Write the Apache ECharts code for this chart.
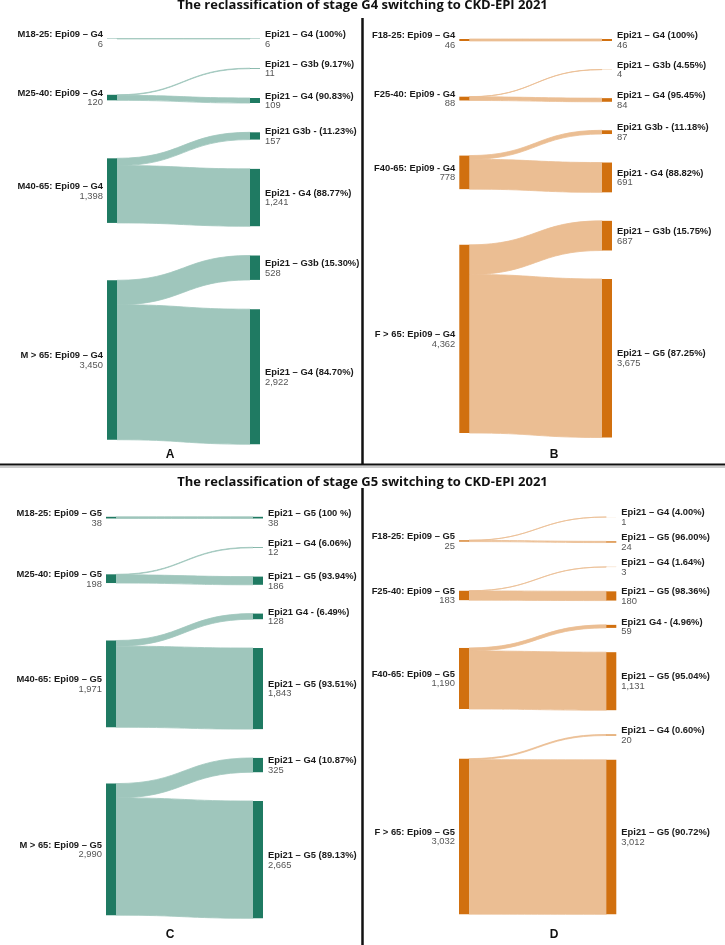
<!DOCTYPE html>
<html><head><meta charset="utf-8">
<script src="https://cdn.jsdelivr.net/npm/echarts@6/dist/echarts.min.js"></script>
<style>html,body{margin:0;padding:0;background:#fff}#c{width:725px;height:945px}</style>
</head><body><div id="c"></div>
<script>
// ---------- texts ----------
const titleTop = 'The reclassification of stage G4 switching to CKD-EPI 2021';
const titleBottom = 'The reclassification of stage G5 switching to CKD-EPI 2021';
const panelLetters = ['A', 'B', 'C', 'D'];

// ---------- Panel A (men, G4) ----------
const aSourceNames = ['M18-25: Epi09 – G4', 'M25-40: Epi09 – G4', 'M40-65: Epi09 – G4', 'M > 65: Epi09 – G4'];
const aSourceValues = [6, 120, 1398, 3450];
const aTargetNames = ['Epi21 – G4 (100%)', 'Epi21 – G3b (9.17%)', 'Epi21 – G4 (90.83%)', 'Epi21 G3b - (11.23%)', 'Epi21 - G4 (88.77%)', 'Epi21 – G3b (15.30%)', 'Epi21 – G4 (84.70%)'];
const aTargetValues = [6, 11, 109, 157, 1241, 528, 2922];
const aTargetSource = [0, 1, 1, 2, 2, 3, 3];

// ---------- Panel B (women, G4) ----------
const bSourceNames = ['F18-25: Epi09 – G4', 'F25-40: Epi09 - G4', 'F40-65: Epi09 - G4', 'F > 65: Epi09 – G4'];
const bSourceValues = [46, 88, 778, 4362];
const bTargetNames = ['Epi21 – G4 (100%)', 'Epi21 – G3b (4.55%)', 'Epi21 – G4 (95.45%)', 'Epi21 G3b - (11.18%)', 'Epi21 - G4 (88.82%)', 'Epi21 – G3b (15.75%)', 'Epi21 – G5 (87.25%)'];
const bTargetValues = [46, 4, 84, 87, 691, 687, 3675];
const bTargetSource = [0, 1, 1, 2, 2, 3, 3];

// ---------- Panel C (men, G5) ----------
const cSourceNames = ['M18-25: Epi09 – G5', 'M25-40: Epi09 – G5', 'M40-65: Epi09 – G5', 'M > 65: Epi09 – G5'];
const cSourceValues = [38, 198, 1971, 2990];
const cTargetNames = ['Epi21 – G5 (100 %)', 'Epi21 – G4 (6.06%)', 'Epi21 – G5 (93.94%)', 'Epi21 G4 - (6.49%)', 'Epi21 – G5 (93.51%)', 'Epi21 – G4 (10.87%)', 'Epi21 – G5 (89.13%)'];
const cTargetValues = [38, 12, 186, 128, 1843, 325, 2665];
const cTargetSource = [0, 1, 1, 2, 2, 3, 3];

// ---------- Panel D (women, G5) ----------
const dSourceNames = ['F18-25: Epi09 – G5', 'F25-40: Epi09 – G5', 'F40-65: Epi09 – G5', 'F > 65: Epi09 – G5'];
const dSourceValues = [25, 183, 1190, 3032];
const dTargetNames = ['Epi21 – G4 (4.00%)', 'Epi21 – G5 (96.00%)', 'Epi21 – G4 (1.64%)', 'Epi21 – G5 (98.36%)', 'Epi21 G4 - (4.96%)', 'Epi21 – G5 (95.04%)', 'Epi21 – G4 (0.60%)', 'Epi21 – G5 (90.72%)'];
const dTargetValues = [1, 24, 3, 180, 59, 1131, 20, 3012];
const dTargetSource = [0, 0, 1, 1, 2, 2, 3, 3];

// ---------- styles ----------
const GREEN = { node: '#1f7a62', link: '#9fc6bc' };
const ORANGE = { node: '#d1700f', link: '#ebbe93' };
const NODE_W = 10;
const LABEL_FONT = '"Liberation Sans", Arial, sans-serif';
const LABEL_SIZE = '9.4px ';

const panels = [
  { src: aSourceNames, srcV: aSourceValues, tgt: aTargetNames, tgtV: aTargetValues, tgtS: aTargetSource, color: GREEN,
    box: { left: 107, right: 260, top: 38.6, bottom: 444.2, gap: 29.3 } },
  { src: bSourceNames, srcV: bSourceValues, tgt: bTargetNames, tgtV: bTargetValues, tgtS: bTargetSource, color: ORANGE,
    box: { left: 459.3, right: 612, top: 39, bottom: 437.5, gap: 28.5 } },
  { src: cSourceNames, srcV: cSourceValues, tgt: cTargetNames, tgtV: cTargetValues, tgtS: cTargetSource, color: GREEN,
    box: { left: 106, right: 263, top: 516.8, bottom: 918.3, gap: 28.8 } },
  { src: dSourceNames, srcV: dSourceValues, tgt: dTargetNames, tgtV: dTargetValues, tgtS: dTargetSource, color: ORANGE,
    box: { left: 459, right: 616.3, top: 517, bottom: 914.3, gap: 24.3 } }
];

const fmt = v => Number(v).toLocaleString('en-US');
const sum = arr => arr.reduce((a, b) => a + b, 0);

// Sankey-like layout: right column packed with gaps, each source centred on the
// value-weighted centre of its targets (computed from data via the axis scale k).
function computeLayout(P, k, y0, gap) {
  const tTop = [], tH = [];
  let cum = 0;
  P.tgtV.forEach((v, i) => { tTop.push(y0 + cum * k + i * gap); tH.push(v * k); cum += v; });
  const sTop = [], sH = [];
  P.srcV.forEach((V, s) => {
    let w = 0, vs = 0;
    P.tgtV.forEach((v, i) => { if (P.tgtS[i] === s) { w += v * (tTop[i] + tH[i] / 2); vs += v; } });
    const c = w / vs;
    sH.push(V * k); sTop.push(c - V * k / 2);
  });
  const linkOff = [];
  const acc = P.srcV.map(() => 0);
  P.tgtV.forEach((v, i) => { const s = P.tgtS[i]; linkOff.push(sTop[s] + acc[s]); acc[s] += v * k; });
  return { tTop, tH, sTop, sH, linkOff };
}

const grids = [], xAxes = [], yAxes = [], series = [];
panels.forEach((P, pi) => {
  const b = P.box;
  const nGaps = P.tgtV.length - 1;
  grids.push({ left: b.left, top: b.top, width: b.right - b.left, height: (b.bottom - b.top) - nGaps * b.gap });
  xAxes.push({ gridIndex: pi, type: 'value', min: 0, max: 1, show: false });
  yAxes.push({ gridIndex: pi, type: 'value', min: 0, max: sum(P.tgtV), inverse: true, show: false });

  // links + target nodes + target labels
  series.push({
    type: 'custom', xAxisIndex: pi, yAxisIndex: pi, clip: false, silent: true,
    data: P.tgtV.map(v => [0, v]),
    renderItem: (params, api) => {
      const i = params.dataIndex;
      const k = api.size([0, 1])[1];
      const p0 = api.coord([0, 0]);
      const xL = p0[0], y0 = p0[1];
      const xR = api.coord([1, 0])[0];
      const L = computeLayout(P, k, y0, P.box.gap);
      const x0 = xL + NODE_W, x1 = xR - NODE_W, xm = (x0 + x1) / 2;
      const h = api.value(1) * k;
      const sy0 = L.linkOff[i], sy1 = sy0 + h;
      const ty0 = L.tTop[i], ty1 = ty0 + h;
      const d = 'M' + x0 + ',' + sy0 + ' C' + xm + ',' + sy0 + ' ' + xm + ',' + ty0 + ' ' + x1 + ',' + ty0 +
        ' L' + x1 + ',' + ty1 + ' C' + xm + ',' + ty1 + ' ' + xm + ',' + sy1 + ' ' + x0 + ',' + sy1 + ' Z';
      const cy = ty0 + h / 2;
      return { type: 'group', children: [
        { type: 'path', shape: { pathData: d }, style: { fill: P.color.link, stroke: P.color.link, lineWidth: 0.8 } },
        { type: 'rect', shape: { x: x1, y: ty0, width: NODE_W, height: h }, style: { fill: P.color.node } },
        { type: 'text', x: xR + 5, y: cy - 4.4, style: { text: P.tgt[i], font: 'bold ' + LABEL_SIZE + LABEL_FONT, fill: '#1a1a1a', align: 'left', verticalAlign: 'middle' } },
        { type: 'text', x: xR + 5, y: cy + 5.3, style: { text: fmt(api.value(1)), font: LABEL_SIZE + LABEL_FONT, fill: '#555', align: 'left', verticalAlign: 'middle' } }
      ] };
    }
  });

  // source nodes + labels
  series.push({
    type: 'custom', xAxisIndex: pi, yAxisIndex: pi, clip: false, silent: true,
    data: P.srcV.map(v => [0, v]),
    renderItem: (params, api) => {
      const s = params.dataIndex;
      const k = api.size([0, 1])[1];
      const p0 = api.coord([0, 0]);
      const xL = p0[0], y0 = p0[1];
      const L = computeLayout(P, k, y0, P.box.gap);
      const h = api.value(1) * k;
      const cy = L.sTop[s] + h / 2;
      return { type: 'group', children: [
        { type: 'rect', shape: { x: xL, y: L.sTop[s], width: NODE_W, height: h }, style: { fill: P.color.node } },
        { type: 'text', x: xL - 4, y: cy - 4.4, style: { text: P.src[s], font: 'bold ' + LABEL_SIZE + LABEL_FONT, fill: '#1a1a1a', align: 'right', verticalAlign: 'middle' } },
        { type: 'text', x: xL - 4, y: cy + 5.3, style: { text: fmt(api.value(1)), font: LABEL_SIZE + LABEL_FONT, fill: '#555', align: 'right', verticalAlign: 'middle' } }
      ] };
    }
  });
});

const titleFont = 'bold 13px "Open Sans", sans-serif';
const letterFont = 'bold 12px "Liberation Sans", Arial, sans-serif';
const letterPos = [[170, 455], [554, 455], [170, 935], [554, 935]];

const graphic = [
  { type: 'text', x: 362.5, y: 5.5, style: { text: titleTop, font: titleFont, fill: '#111', align: 'center', verticalAlign: 'middle' } },
  { type: 'text', x: 362.5, y: 482, style: { text: titleBottom, font: titleFont, fill: '#111', align: 'center', verticalAlign: 'middle' } },
  { type: 'line', shape: { x1: 362.5, y1: 18, x2: 362.5, y2: 465 }, style: { stroke: '#111', lineWidth: 2.5 } },
  { type: 'line', shape: { x1: 0, y1: 464.5, x2: 725, y2: 464.5 }, style: { stroke: '#111', lineWidth: 2 } },
  { type: 'line', shape: { x1: 0, y1: 467, x2: 725, y2: 467 }, style: { stroke: '#999', lineWidth: 1 } },
  { type: 'line', shape: { x1: 362.5, y1: 488, x2: 362.5, y2: 945 }, style: { stroke: '#111', lineWidth: 2.5 } }
];
panelLetters.forEach((t, i) => graphic.push({ type: 'text', x: letterPos[i][0], y: letterPos[i][1], style: { text: t, font: letterFont, fill: '#111', align: 'center', verticalAlign: 'middle' } }));

const chart = echarts.init(document.getElementById('c'), null, { renderer: 'canvas' });
chart.setOption({
  animation: false,
  backgroundColor: '#fff',
  grid: grids, xAxis: xAxes, yAxis: yAxes,
  series: series,
  graphic: graphic
});
</script></body></html>
